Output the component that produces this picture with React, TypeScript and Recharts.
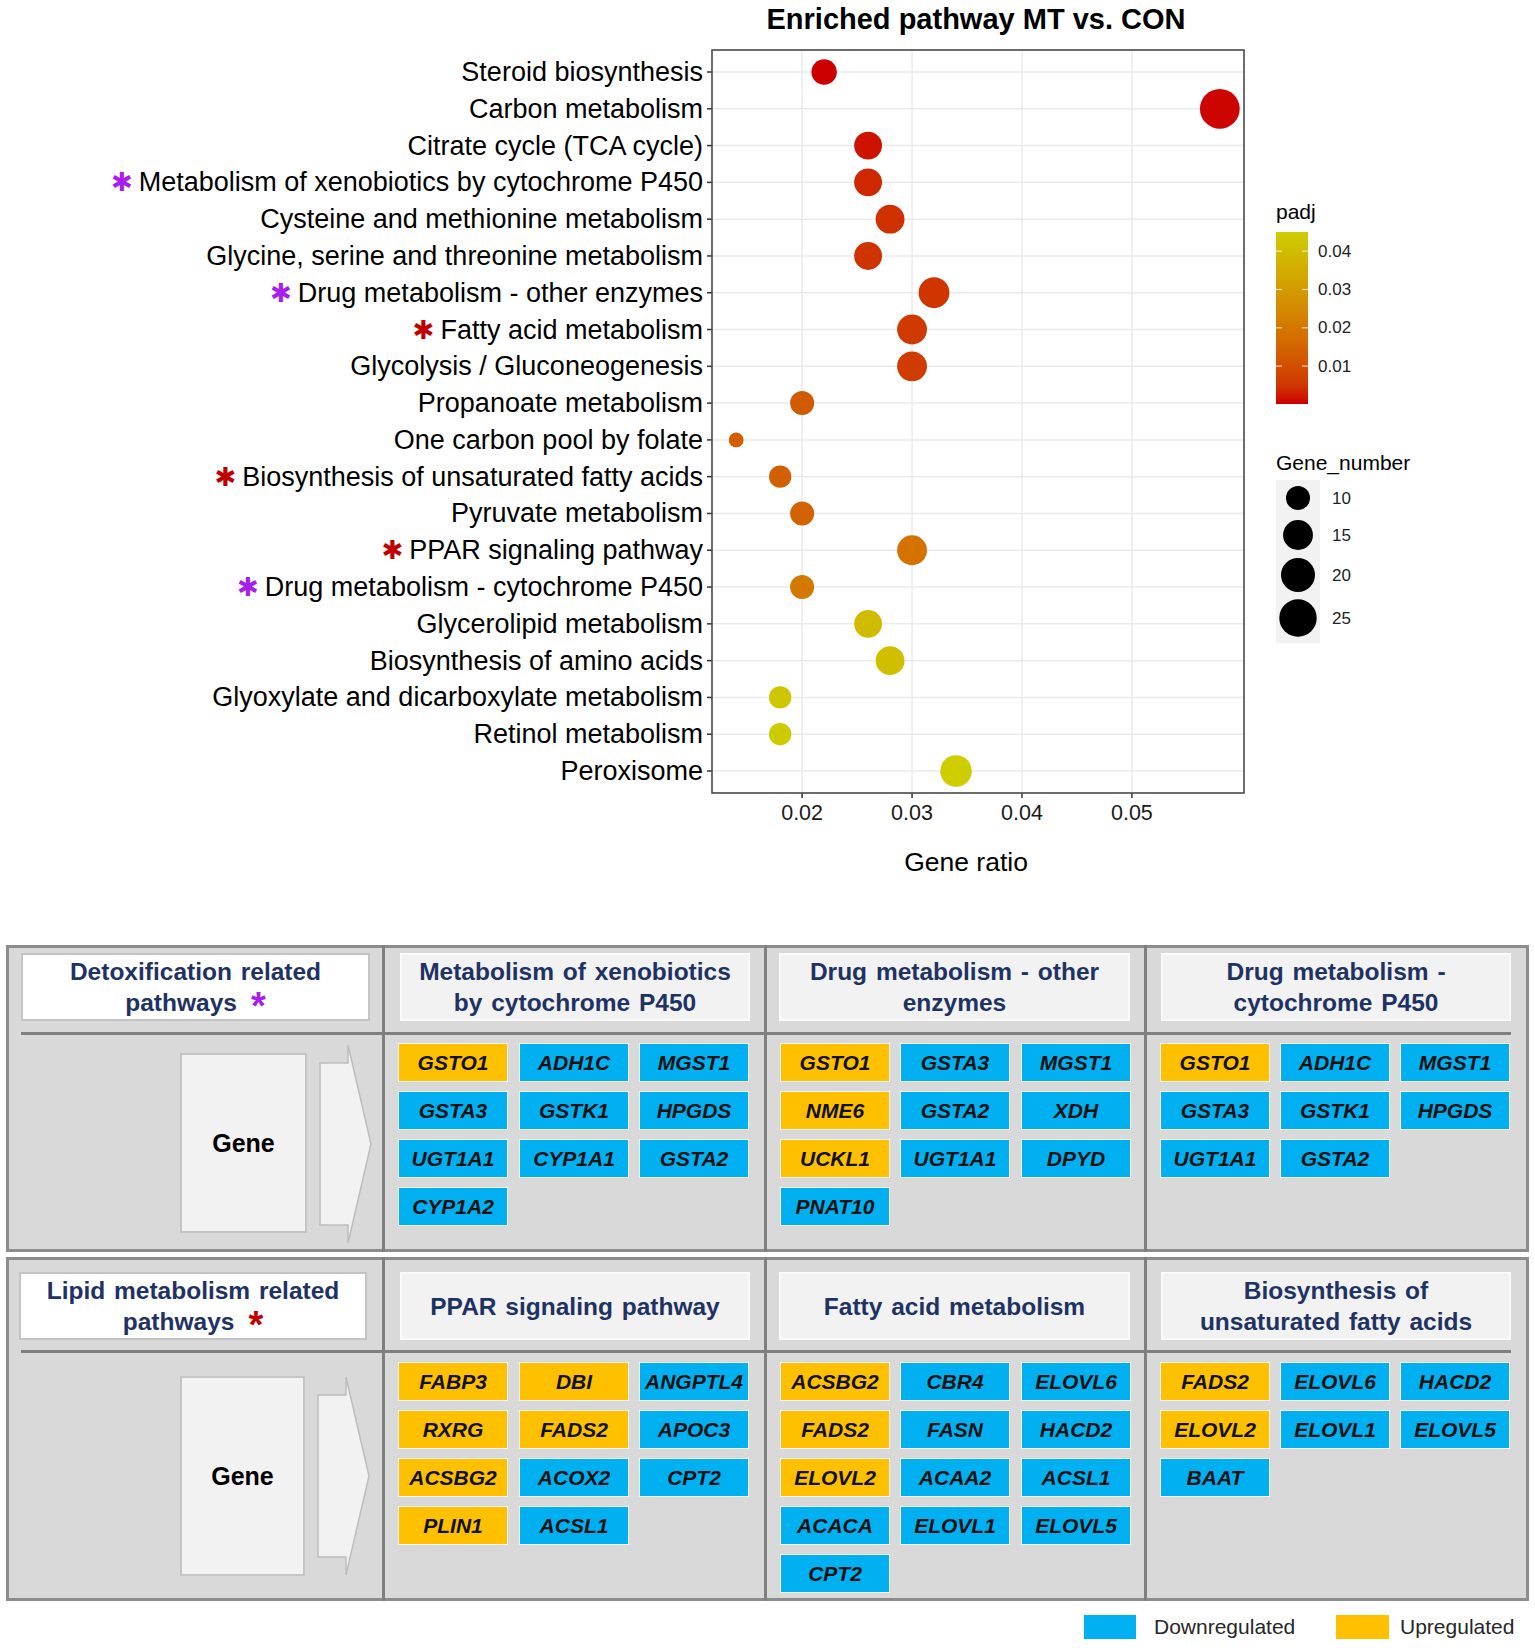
import React from "react";
import { ScatterChart, Scatter, XAxis, YAxis, CartesianGrid } from "recharts";

// ---- bubble plot data (top to bottom) ----
const pathways = [
  "Steroid biosynthesis",
  "Carbon metabolism",
  "Citrate cycle (TCA cycle)",
  "Metabolism of xenobiotics by cytochrome P450",
  "Cysteine and methionine metabolism",
  "Glycine, serine and threonine metabolism",
  "Drug metabolism - other enzymes",
  "Fatty acid metabolism",
  "Glycolysis / Gluconeogenesis",
  "Propanoate metabolism",
  "One carbon pool by folate",
  "Biosynthesis of unsaturated fatty acids",
  "Pyruvate metabolism",
  "PPAR signaling pathway",
  "Drug metabolism - cytochrome P450",
  "Glycerolipid metabolism",
  "Biosynthesis of amino acids",
  "Glyoxylate and dicarboxylate metabolism",
  "Retinol metabolism",
  "Peroxisome",
];
const geneRatio = [0.022, 0.058, 0.026, 0.026, 0.028, 0.026, 0.032, 0.03, 0.03, 0.02, 0.014, 0.018, 0.02, 0.03, 0.02, 0.026, 0.028, 0.018, 0.018, 0.034];
const geneNumber = [11, 29, 13, 13, 14, 13, 16, 15, 15, 10, 7, 9, 10, 15, 10, 13, 14, 9, 9, 17];
const padj = [0.0001, 0.0003, 0.001, 0.003, 0.0045, 0.0048, 0.005, 0.0058, 0.0062, 0.0125, 0.0135, 0.014, 0.0145, 0.0185, 0.0205, 0.0395, 0.0405, 0.043, 0.044, 0.045];

const purpleStar = ["Metabolism of xenobiotics by cytochrome P450", "Drug metabolism - other enzymes", "Drug metabolism - cytochrome P450"];
const redStar = ["Fatty acid metabolism", "Biosynthesis of unsaturated fatty acids", "PPAR signaling pathway"];

const xTicks = [0.02, 0.03, 0.04, 0.05];
const padjTicks = [0.01, 0.02, 0.03, 0.04];
const sizeBreaks = [10, 15, 20, 25];

// ---- gene table data ----
const detoxTitle = ["Detoxification related", "pathways"];
const lipidTitle = ["Lipid metabolism related", "pathways"];
const detoxHeaders = [
  ["Metabolism of xenobiotics", "by cytochrome P450"],
  ["Drug metabolism - other", "enzymes"],
  ["Drug metabolism -", "cytochrome P450"],
];
const lipidHeaders = [["PPAR signaling pathway"], ["Fatty acid metabolism"], ["Biosynthesis of", "unsaturated fatty acids"]];

const xenobioticsGenes = ["GSTO1", "ADH1C", "MGST1", "GSTA3", "GSTK1", "HPGDS", "UGT1A1", "CYP1A1", "GSTA2", "CYP1A2"];
const drugOtherGenes = ["GSTO1", "GSTA3", "MGST1", "NME6", "GSTA2", "XDH", "UCKL1", "UGT1A1", "DPYD", "PNAT10"];
const drugP450Genes = ["GSTO1", "ADH1C", "MGST1", "GSTA3", "GSTK1", "HPGDS", "UGT1A1", "GSTA2"];
const pparGenes = ["FABP3", "DBI", "ANGPTL4", "RXRG", "FADS2", "APOC3", "ACSBG2", "ACOX2", "CPT2", "PLIN1", "ACSL1"];
const fattyAcidGenes = ["ACSBG2", "CBR4", "ELOVL6", "FADS2", "FASN", "HACD2", "ELOVL2", "ACAA2", "ACSL1", "ACACA", "ELOVL1", "ELOVL5", "CPT2"];
const unsaturatedGenes = ["FADS2", "ELOVL6", "HACD2", "ELOVL2", "ELOVL1", "ELOVL5", "BAAT"];
const upregulated = ["GSTO1", "NME6", "UCKL1", "FABP3", "DBI", "RXRG", "FADS2", "ACSBG2", "PLIN1", "ELOVL2"];

const FONT = "'Liberation Sans', Arial, Helvetica, sans-serif";
const PURPLE = "#A81EEB";
const RED = "#C00000";
const NAVY = "#1F3264";
const BLUE = "#00B0F0";
const ORANGE = "#FFC000";

// ---- colour scale (red3 -> yellow3, interpolated in Lab like ggplot) ----
const lin = (c: number) => { c /= 255; return c <= 0.04045 ? c / 12.92 : Math.pow((c + 0.055) / 1.055, 2.4); };
const unlin = (c: number) => {
  const v = c <= 0.0031308 ? 12.92 * c : 1.055 * Math.pow(c, 1 / 2.4) - 0.055;
  return Math.round(Math.max(0, Math.min(1, v)) * 255);
};
function toLab([r, g, b]: number[]) {
  const R = lin(r), G = lin(g), B = lin(b);
  const X = (0.4124 * R + 0.3576 * G + 0.1805 * B) / 0.95047;
  const Y = 0.2126 * R + 0.7152 * G + 0.0722 * B;
  const Z = (0.0193 * R + 0.1192 * G + 0.9505 * B) / 1.08883;
  const f = (t: number) => (t > 0.008856 ? Math.cbrt(t) : 7.787 * t + 16 / 116);
  return [116 * f(Y) - 16, 500 * (f(X) - f(Y)), 200 * (f(Y) - f(Z))];
}
function fromLab([L, a, bb]: number[]) {
  const fy = (L + 16) / 116, fx = fy + a / 500, fz = fy - bb / 200;
  const inv = (t: number) => (t * t * t > 0.008856 ? t * t * t : (t - 16 / 116) / 7.787);
  const X = inv(fx) * 0.95047, Y = inv(fy), Z = inv(fz) * 1.08883;
  const R = 3.2406 * X - 1.5372 * Y - 0.4986 * Z;
  const G = -0.9689 * X + 1.8758 * Y + 0.0415 * Z;
  const B = 0.0557 * X - 0.204 * Y + 1.057 * Z;
  return `rgb(${unlin(R)},${unlin(G)},${unlin(B)})`;
}
const lowLab = toLab([205, 0, 0]);
const highLab = toLab([205, 205, 0]);
const pMin = Math.min(...padj);
const pMax = Math.max(...padj);
function padjColor(p: number) {
  const t = Math.max(0, Math.min(1, (p - pMin) / (pMax - pMin)));
  return fromLab(lowLab.map((v, i) => v + (highLab[i] - v) * t));
}

// ---- size scale (area-like, ggplot scale_size) ----
const nMin = Math.min(...geneNumber);
const nMax = Math.max(...geneNumber);
const radius = (n: number) => 7.4 + 12.5 * Math.sqrt((n - nMin) / (nMax - nMin));

const points = pathways.map((name, i) => ({ name, ratio: geneRatio[i], genes: geneNumber[i], padj: padj[i] }));

// plot panel geometry
const PANEL = { left: 712, right: 1244, top: 50, bottom: 793 };
const CHART_W = 1535;
const CHART_H = 900;

function Bubble(props: any) {
  const { cx, cy, payload } = props;
  if (cx == null || cy == null) return null;
  return <circle cx={cx} cy={cy} r={radius(payload.genes)} fill={padjColor(payload.padj)} />;
}

function PathwayTick({ x, y, payload }: any) {
  const name = payload.value;
  const star = purpleStar.includes(name) ? PURPLE : redStar.includes(name) ? RED : null;
  return (
    <text x={x} y={y} textAnchor="end" dominantBaseline="central" fontSize={27} fill="#000" fontFamily={FONT}>
      {star && (
        <tspan fill={star} fontSize={26} fontFamily="'DejaVu Sans', sans-serif">
          ✱
        </tspan>
      )}
      <tspan dx={star ? 6 : 0}>{name}</tspan>
    </text>
  );
}

function ChartOverlay() {
  const barTop = 232, barBottom = 404;
  const barY = (v: number) => barBottom - ((v - pMin) / (pMax - pMin)) * (barBottom - barTop);
  const stops = Array.from({ length: 11 }, (_, i) => i / 10);
  const sizeY = [498, 535, 575, 618];
  return (
    <svg width={CHART_W} height={CHART_H} style={{ position: "absolute", left: 0, top: 0, pointerEvents: "none" }} fontFamily={FONT}>
      <defs>
        <linearGradient id="padjGrad" x1="0" y1="1" x2="0" y2="0">
          {stops.map((s) => (
            <stop key={s} offset={s} stopColor={padjColor(pMin + s * (pMax - pMin))} />
          ))}
        </linearGradient>
      </defs>
      <text x={976} y={19} textAnchor="middle" dominantBaseline="central" fontSize={29} fontWeight="bold" fill="#000">
        Enriched pathway MT vs. CON
      </text>
      <rect
        x={PANEL.left}
        y={PANEL.top}
        width={PANEL.right - PANEL.left}
        height={PANEL.bottom - PANEL.top}
        fill="none"
        stroke="#4D4D4D"
        strokeWidth={1.6}
      />
      <text x={966} y={862} textAnchor="middle" dominantBaseline="central" fontSize={26.5} fill="#000">
        Gene ratio
      </text>

      {/* padj colourbar */}
      <text x={1276} y={211} dominantBaseline="central" fontSize={21} fill="#000">
        padj
      </text>
      <rect x={1276} y={barTop} width={32} height={barBottom - barTop} fill="url(#padjGrad)" />
      {padjTicks.map((t) => (
        <g key={t}>
          <line x1={1276} x2={1282} y1={barY(t)} y2={barY(t)} stroke="#fff" strokeOpacity={0.7} strokeWidth={1.2} />
          <line x1={1302} x2={1308} y1={barY(t)} y2={barY(t)} stroke="#fff" strokeOpacity={0.7} strokeWidth={1.2} />
          <text x={1318} y={barY(t)} dominantBaseline="central" fontSize={17} fill="#222">
            {t.toFixed(2)}
          </text>
        </g>
      ))}

      {/* Gene_number size legend */}
      <text x={1276} y={462} dominantBaseline="central" fontSize={21} fill="#000">
        Gene_number
      </text>
      <rect x={1276} y={480} width={44} height={163} fill="#F2F2F2" />
      {sizeBreaks.map((b, i) => (
        <g key={b}>
          <circle cx={1298} cy={sizeY[i]} r={radius(b)} fill="#000" />
          <text x={1332} y={sizeY[i]} dominantBaseline="central" fontSize={17} fill="#222">
            {b}
          </text>
        </g>
      ))}
    </svg>
  );
}

// ---- table pieces ----
const tagCols = [
  [398, 519, 639],
  [780, 900, 1021],
  [1160, 1280, 1400],
];
const headerCols = [
  [400, 750],
  [779, 1130],
  [1161, 1511],
];

function GeneTag({ gene, x, y }: { gene: string; x: number; y: number }) {
  const up = upregulated.includes(gene);
  return (
    <div
      style={{
        position: "absolute",
        left: x,
        top: y,
        width: 110,
        height: 39,
        boxSizing: "border-box",
        background: up ? ORANGE : BLUE,
        border: "1.5px solid #F5F5F5",
        display: "flex",
        alignItems: "center",
        justifyContent: "center",
        fontWeight: "bold",
        fontStyle: "italic",
        fontSize: 21,
        color: "#111",
      }}
    >
      {gene}
    </div>
  );
}

function HeaderBox({ x1, x2, y, lines, star, white }: any) {
  return (
    <div
      style={{
        position: "absolute",
        left: x1,
        top: y,
        width: x2 - x1,
        height: 68,
        boxSizing: "border-box",
        background: white ? "#FFFFFF" : "#F2F2F2",
        border: white ? "2.5px solid #C4C4C4" : "2px solid #FAFAFA",
        display: "flex",
        flexDirection: "column",
        alignItems: "center",
        justifyContent: "center",
        color: NAVY,
        fontWeight: "bold",
        fontSize: 24.5,
        lineHeight: "31px",
        wordSpacing: 2,
      }}
    >
      {lines.map((l: string, i: number) => (
        <div key={i} style={{ whiteSpace: "nowrap", height: 31 }}>
          {l}
          {star && i === lines.length - 1 && (
            <span style={{ color: star, fontSize: 38, lineHeight: 0, position: "relative", top: 8, marginLeft: 14 }}>*</span>
          )}
        </div>
      ))}
    </div>
  );
}

function GroupBox({ top, height, headerTop, lineY, geneBox, arrow, title, star, headers, genes, rowTop }: any) {
  return (
    <>
      <div
        style={{
          position: "absolute",
          left: 6,
          top,
          width: 1523,
          height,
          boxSizing: "border-box",
          background: "#D9D9D9",
          border: "3px solid #8C8C8C",
        }}
      />
      {[382, 764, 1144].map((x) => (
        <div key={x} style={{ position: "absolute", left: x, top, width: 3, height, background: "#7F7F7F" }} />
      ))}
      <div style={{ position: "absolute", left: 21, top: lineY, width: 1490, height: 3, background: "#7F7F7F" }} />
      <HeaderBox x1={title.x1} x2={title.x2} y={headerTop} lines={title.lines} star={star} white />
      {headers.map((h: string[], i: number) => (
        <HeaderBox key={i} x1={headerCols[i][0]} x2={headerCols[i][1]} y={headerTop} lines={h} />
      ))}
      <div
        style={{
          position: "absolute",
          left: geneBox.x,
          top: geneBox.y,
          width: geneBox.w,
          height: geneBox.h,
          boxSizing: "border-box",
          background: "#F2F2F2",
          border: "2px solid #C4C4C4",
          display: "flex",
          alignItems: "center",
          justifyContent: "center",
          fontWeight: "bold",
          fontSize: 25,
          color: "#000",
        }}
      >
        Gene
      </div>
      <svg width={1535} height={1648} style={{ position: "absolute", left: 0, top: 0, pointerEvents: "none" }}>
        <polygon
          points={`${arrow.x0},${arrow.bodyTop} ${arrow.x1},${arrow.bodyTop} ${arrow.x1},${arrow.headTop} ${arrow.tip},${arrow.mid} ${arrow.x1},${arrow.headBottom} ${arrow.x1},${arrow.bodyBottom} ${arrow.x0},${arrow.bodyBottom}`}
          fill="#F2F2F2"
          stroke="#BDBDBD"
          strokeWidth={1.5}
        />
      </svg>
      {genes.map((list: string[], c: number) =>
        list.map((g, i) => <GeneTag key={c + "-" + i} gene={g} x={tagCols[c][i % 3]} y={rowTop + Math.floor(i / 3) * 48} />)
      )}
    </>
  );
}

export default function App() {
  return (
    <div
      style={{
        position: "absolute",
        left: 0,
        top: 0,
        width: 1535,
        height: 1648,
        background: "#fff",
        fontFamily: FONT,
        overflow: "hidden",
      }}
    >
      <div style={{ position: "absolute", left: 0, top: 0 }}>
        <ScatterChart
          width={CHART_W}
          height={CHART_H}
          data={points}
          margin={{ top: PANEL.top, right: CHART_W - PANEL.right, bottom: 47, left: 12 }}
        >
          <CartesianGrid stroke="#EBEBEB" strokeWidth={1.5} />
          <XAxis
            type="number"
            dataKey="ratio"
            domain={[0.0118, 0.0602]}
            allowDataOverflow
            ticks={xTicks}
            tickFormatter={(v: number) => v.toFixed(2)}
            height={60}
            axisLine={false}
            tickSize={5}
            tickMargin={7}
            tickLine={{ stroke: "#333", strokeWidth: 1.5 }}
            tick={{ fontSize: 21.5, fill: "#1a1a1a", fontFamily: FONT }}
          />
          <YAxis
            type="category"
            dataKey="name"
            scale="point"
            reversed
            padding={{ top: 22, bottom: 22 }}
            interval={0}
            width={700}
            axisLine={false}
            tickSize={5}
            tickMargin={4}
            tickLine={{ stroke: "#333", strokeWidth: 1.5 }}
            tick={<PathwayTick />}
            allowDuplicatedCategory={false}
          />
          <Scatter data={points} shape={<Bubble />} isAnimationActive={false} />
        </ScatterChart>
        <ChartOverlay />
      </div>

      <GroupBox
        top={945}
        height={307}
        headerTop={953}
        lineY={1032}
        title={{ x1: 21, x2: 370, lines: detoxTitle }}
        star={PURPLE}
        headers={detoxHeaders}
        genes={[xenobioticsGenes, drugOtherGenes, drugP450Genes]}
        rowTop={1043}
        geneBox={{ x: 180, y: 1053, w: 127, h: 180 }}
        arrow={{ x0: 320, x1: 348, tip: 371, bodyTop: 1063, bodyBottom: 1225, headTop: 1045, headBottom: 1243, mid: 1144 }}
      />
      <GroupBox
        top={1257}
        height={344}
        headerTop={1272}
        lineY={1350}
        title={{ x1: 19, x2: 367, lines: lipidTitle }}
        star={RED}
        headers={lipidHeaders}
        genes={[pparGenes, fattyAcidGenes, unsaturatedGenes]}
        rowTop={1362}
        geneBox={{ x: 180, y: 1376, w: 125, h: 200 }}
        arrow={{ x0: 318, x1: 346, tip: 369, bodyTop: 1395, bodyBottom: 1557, headTop: 1377, headBottom: 1575, mid: 1476 }}
      />

      {/* regulation legend */}
      <div style={{ position: "absolute", left: 1084, top: 1615, width: 52, height: 24, background: BLUE }} />
      <div style={{ position: "absolute", left: 1154, top: 1615, height: 24, lineHeight: "24px", fontSize: 21, color: "#262626" }}>
        Downregulated
      </div>
      <div style={{ position: "absolute", left: 1336, top: 1615, width: 53, height: 24, background: ORANGE }} />
      <div style={{ position: "absolute", left: 1400, top: 1615, height: 24, lineHeight: "24px", fontSize: 21, color: "#262626" }}>
        Upregulated
      </div>
    </div>
  );
}
